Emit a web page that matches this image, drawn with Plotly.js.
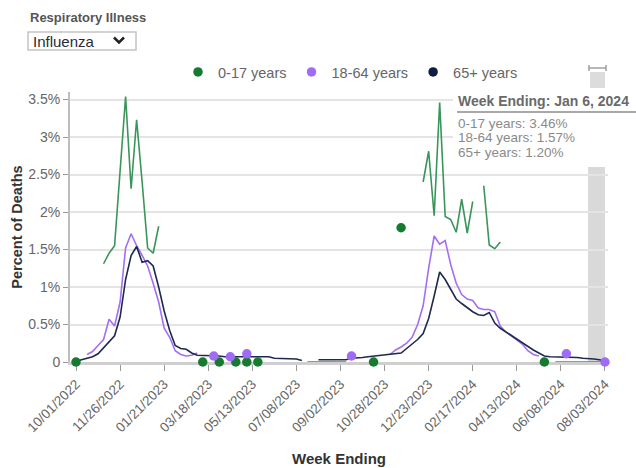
<!DOCTYPE html>
<html><head><meta charset="utf-8">
<script src="https://cdn.plot.ly/plotly-3.0.1.min.js"></script>
<style>html,body{margin:0;padding:0;background:#fff}#chart{width:636px;height:468px}</style>
</head><body><div id="chart"></div>
<script>
const N = null;
const seriesNames = ['0-17 years', '18-64 years', '65+ years'];
const seriesColors = ['#3a955a', '#a36ef6', '#1c2a4d'];
const dotColors = ['#167a30', '#a06cf7', '#0f1d40'];
// Week ending dates start at 10/01/2022, weekly, 97 weeks
const firstWeekUTC = Date.UTC(2022, 9, 1);
const weekCount = 97;

const age0to17 = [
  0, N, N, N, N, 1.31, 1.45, 1.55, 2.55, 3.54,
  2.31, 3.23, 2.40, 1.52, 1.45, 1.81, N, N, N, N,
  N, N, N, 0, N, N, 0, N, N, 0,
  N, 0, N, 0, N, N, N, N, N, N,
  N, N, 0, 0, 0, 0, 0, 0, 0, 0,
  N, N, N, N, 0, N, N, N, N, 1.79,
  N, N, N, 2.40, 2.81, 1.95, 3.46, 1.94, 1.90, 1.73,
  2.17, 1.72, 2.14, N, 2.35, 1.56, 1.51, 1.60, N, N,
  N, N, N, N, N, 0, N, 0, 0, 0,
  0, 0, 0, 0, 0, 0, 0
];
const age18to64 = [
  N, N, 0.10, 0.14, 0.22, 0.30, 0.57, 0.48, 0.80, 1.52,
  1.71, 1.55, 1.42, 1.28, 1.05, 0.80, 0.45, 0.33, 0.15, 0.10,
  0.08, 0.09, 0.12, N, N, 0.08, N, N, 0.07, N,
  N, 0.11, N, N, N, N, N, N, N, N,
  N, N, N, N, N, N, N, N, N, N,
  0.08, N, N, N, N, N, N, 0.10, 0.16, 0.20,
  0.25, 0.33, 0.50, 0.75, 1.25, 1.68, 1.57, 1.62, 1.30, 1.05,
  0.90, 0.84, 0.82, 0.72, 0.70, 0.70, 0.67, 0.48, 0.40, 0.35,
  0.30, 0.24, 0.15, 0.10, 0.08, N, N, N, N, 0.11,
  N, N, N, N, N, N, 0
];
const age65plus = [
  0.01, 0.03, 0.05, 0.07, 0.11, 0.19, 0.27, 0.35, 0.60, 1.10,
  1.42, 1.54, 1.33, 1.35, 1.28, 1.00, 0.68, 0.42, 0.22, 0.18,
  0.17, 0.12, 0.09, 0.09, 0.08, 0.08, 0.08, 0.07, 0.07, 0.07,
  0.07, 0.07, 0.06, 0.06, 0.06, 0.07, 0.05, 0.05, 0.05, 0.04,
  0.04, 0.02, N, N, 0.03, 0.03, 0.03, 0.03, 0.02, 0.03,
  0.05, 0.05, 0.06, 0.07, 0.08, 0.09, 0.10, 0.10, 0.11, 0.12,
  0.18, 0.24, 0.30, 0.38, 0.58, 0.88, 1.20, 1.10, 0.97, 0.84,
  0.78, 0.72, 0.67, 0.63, 0.62, 0.66, 0.52, 0.45, 0.40, 0.35,
  0.30, 0.26, 0.20, 0.16, 0.12, 0.08, 0.07, 0.07, 0.07, 0.06,
  0.06, 0.06, 0.05, 0.05, 0.04, 0.03, 0.01
];
const tickDates = ['2022-10-01','2022-11-26','2023-01-21','2023-03-18','2023-05-13','2023-07-08','2023-09-02','2023-10-28','2023-12-23','2024-02-17','2024-04-13','2024-06-08','2024-08-03'];
const tickLabels = ['10/01/2022','11/26/2022','01/21/2023','03/18/2023','05/13/2023','07/08/2023','09/02/2023','10/28/2023','12/23/2023','02/17/2024','04/13/2024','06/08/2024','08/03/2024'];
const yTickVals = [0, 0.5, 1, 1.5, 2, 2.5, 3, 3.5];
const yTickText = ['0', '0.5%', '1%', '1.5%', '2%', '2.5%', '3%', '3.5%'];
const hoverIndex = 66;
const hoverLabel = 'Jan 6, 2024';
const incompleteStart = '2024-07-12 12:00';
const incompleteEnd = '2024-08-03';
const incompleteTop = 2.6;

const DAY = 86400000;
const weeks = [];
for (let i = 0; i < weekCount; i++) weeks.push(new Date(firstWeekUTC + i * 7 * DAY).toISOString().slice(0, 10));
const fmt = ms => new Date(ms).toISOString().replace('T', ' ').slice(0, 19);
const xRange = [fmt(firstWeekUTC - 1.09 * 7 * DAY), fmt(firstWeekUTC + 96.55 * 7 * DAY)];

const allSeries = [age0to17, age18to64, age65plus];
const FONT = 'Arial, "Liberation Sans", sans-serif';

const traces = [];
allSeries.forEach((s, k) => {
  traces.push({x: weeks, y: s, type: 'scatter', mode: 'lines', connectgaps: false,
    line: {color: seriesColors[k], width: 1.6}, showlegend: false, hoverinfo: 'skip', cliponaxis: false});
});
allSeries.forEach((s, k) => {
  const xs = [], ys = [];
  s.forEach((v, i) => {
    if (v === null) return;
    const prev = i > 0 ? s[i - 1] : null, next = i < s.length - 1 ? s[i + 1] : null;
    if (prev === null && next === null) { xs.push(weeks[i]); ys.push(v); }
  });
  if (!xs.length) { xs.push(null); ys.push(null); }
  traces.push({x: xs, y: ys, type: 'scatter', mode: 'markers', name: seriesNames[k],
    marker: {color: dotColors[k], size: 9.5}, cliponaxis: false, showlegend: true});
});

// pixel -> paper helpers
const PL = 70, PR = 608, PT = 92, PB = 362;
const px = x => (x - PL) / (PR - PL);
const py = y => (PB - y) / (PB - PT);

const shapes = [
  {type: 'rect', xref: 'x', yref: 'y', x0: incompleteStart, x1: incompleteEnd, y0: 0, y1: incompleteTop,
   fillcolor: '#d9d9d9', line: {width: 0}, layer: 'below'},
  // tooltip background
  {type: 'rect', xref: 'paper', yref: 'paper', x0: px(453), x1: px(640), y0: py(166), y1: py(90),
   fillcolor: '#ffffff', line: {width: 0}, layer: 'above'},
  {type: 'line', xref: 'paper', yref: 'paper', x0: px(457), x1: px(640), y0: py(112), y1: py(112),
   line: {color: '#a8a8a8', width: 2}, layer: 'above'},
  // dropdown box
  {type: 'rect', xref: 'paper', yref: 'paper', x0: px(28), x1: px(136), y0: py(50), y1: py(32),
   fillcolor: '#ffffff', line: {color: '#c4c4c4', width: 1.5}},
  {type: 'path', xref: 'paper', yref: 'paper',
   path: `M ${px(114)} ${py(37.5)} L ${px(119)} ${py(42.5)} L ${px(124)} ${py(37.5)}`,
   line: {color: '#222', width: 2.5}},
  // incomplete-data legend icon
  {type: 'rect', xref: 'paper', yref: 'paper', x0: px(590), x1: px(605), y0: py(88), y1: py(72),
   fillcolor: '#dcdcdc', line: {width: 0}},
  {type: 'path', xref: 'paper', yref: 'paper',
   path: `M ${px(589)} ${py(65)} L ${px(589)} ${py(71)} M ${px(589)} ${py(68)} L ${px(606)} ${py(68)} M ${px(606)} ${py(65)} L ${px(606)} ${py(71)}`,
   line: {color: '#a0a0a0', width: 1.5}}
];

const tipLines = [
  `${seriesNames[0]}: ${age0to17[hoverIndex].toFixed(2)}%`,
  `${seriesNames[1]}: ${age18to64[hoverIndex].toFixed(2)}%`,
  `${seriesNames[2]}: ${age65plus[hoverIndex].toFixed(2)}%`
];
const annotations = [
  {xref: 'paper', yref: 'paper', x: px(28), y: py(17), xanchor: 'left', yanchor: 'middle', showarrow: false,
   text: '<b>Respiratory Illness</b>', font: {family: FONT, size: 13, color: '#555'}},
  {xref: 'paper', yref: 'paper', x: px(31), y: py(41), xanchor: 'left', yanchor: 'middle', showarrow: false,
   text: 'Influenza', font: {family: FONT, size: 15, color: '#2b2b3a'}},
  {xref: 'paper', yref: 'paper', x: px(456), y: py(101), xanchor: 'left', yanchor: 'middle', showarrow: false,
   text: `<b>Week Ending: ${hoverLabel}</b>`, font: {family: FONT, size: 14, color: '#6a6a6a'}}
];
tipLines.forEach((t, k) => annotations.push({xref: 'paper', yref: 'paper', x: px(456), y: py(123.5 + 14.4 * k),
  xanchor: 'left', yanchor: 'middle', showarrow: false, text: t, font: {family: FONT, size: 13.5, color: '#8a8a8a'}}));

const layout = {
  width: 636, height: 468,
  margin: {l: PL, r: 636 - PR, t: PT, b: 468 - PB, pad: 0},
  paper_bgcolor: '#fff', plot_bgcolor: '#fff',
  font: {family: FONT, color: '#666'},
  showlegend: true,
  legend: {orientation: 'h', x: px(178), y: py(72), xanchor: 'left', yanchor: 'middle',
    font: {family: FONT, size: 14.5, color: '#666'}, bgcolor: 'rgba(0,0,0,0)', itemclick: false, itemdoubleclick: false},
  xaxis: {type: 'date', range: xRange, tickvals: tickDates, ticktext: tickLabels, tickangle: -45,
    tickfont: {family: FONT, size: 13.5, color: '#666'}, ticks: 'outside', ticklen: 6, tickcolor: '#999', tickwidth: 1,
    showgrid: false, showline: true, linecolor: '#cfcfcf', linewidth: 3, zeroline: false, layer: 'below traces',
    title: {text: '<b>Week Ending</b>', font: {family: FONT, size: 15, color: '#333'}, standoff: 20}},
  yaxis: {range: [0, 3.6], tickvals: yTickVals, ticktext: yTickText,
    tickfont: {family: FONT, size: 14, color: '#666'}, ticks: 'outside', ticklen: 5, tickcolor: '#999',
    showgrid: true, gridcolor: '#e4e4e4', gridwidth: 2, showline: true, linecolor: '#bdbdbd', linewidth: 2, zeroline: false,
    layer: 'below traces',
    title: {text: '<b>Percent of Deaths</b>', font: {family: FONT, size: 14.5, color: '#333'}, standoff: 2}},
  shapes: shapes, annotations: annotations
};
Plotly.newPlot('chart', traces, layout, {displayModeBar: false, responsive: false});
</script></body></html>
